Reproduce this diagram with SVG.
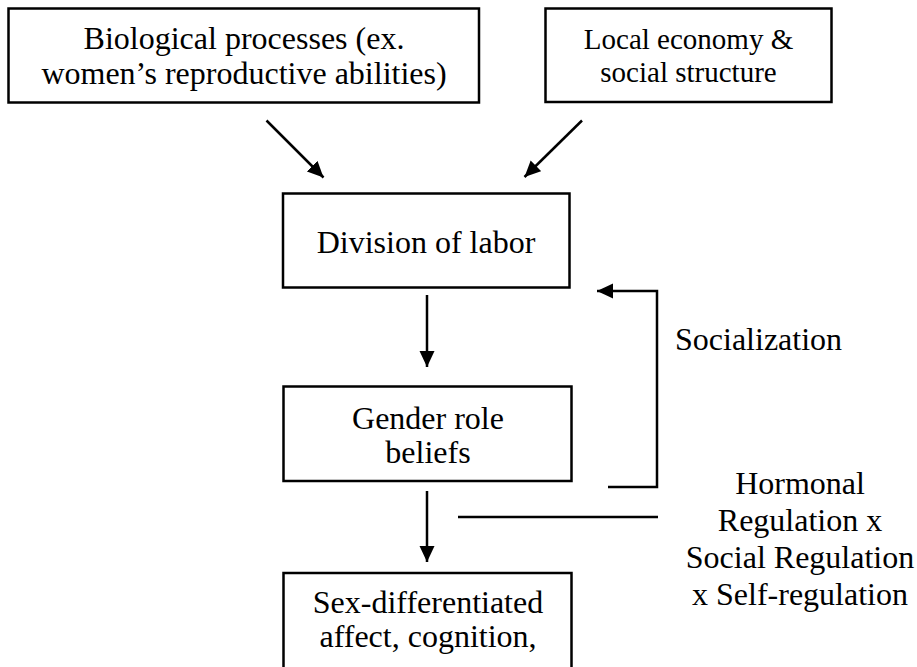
<svg xmlns="http://www.w3.org/2000/svg" width="917" height="667" viewBox="0 0 917 667">
  <style>
    .box { fill: #ffffff; stroke: #000000; stroke-width: 2.5; }
    .t { font-family: "Liberation Serif", "Times New Roman", serif; font-size: 32px; fill: #000000; text-anchor: middle; }
    .ts { font-size: 29px; }
    .ln { fill: none; stroke: #000000; stroke-width: 2.5; }
  </style>
  <defs>
    <marker id="ah" markerUnits="userSpaceOnUse" markerWidth="17" markerHeight="16" refX="16" refY="7.5" orient="auto">
      <path d="M0,0 L16,7.5 L0,15 z" fill="#000000"/>
    </marker>
  </defs>
  <rect width="917" height="667" fill="#ffffff"/>

  <g id="bio">
    <rect class="box" x="8.5" y="8.5" width="470.5" height="94"/>
    <text class="t" x="244" y="49">Biological processes (ex.</text>
    <text class="t" x="244" y="84">women’s reproductive abilities)</text>
  </g>

  <g id="econ">
    <rect class="box" x="545.5" y="8.5" width="286" height="93.5"/>
    <text class="t ts" x="688.5" y="49">Local economy &amp;</text>
    <text class="t ts" x="688.5" y="82">social structure</text>
  </g>

  <g id="division">
    <rect class="box" x="283" y="193.5" width="286.5" height="94"/>
    <text class="t" x="426" y="252.5">Division of labor</text>
  </g>

  <g id="gender">
    <rect class="box" x="283.5" y="386.5" width="288" height="94.5"/>
    <text class="t" x="428" y="429">Gender role</text>
    <text class="t" x="428" y="463">beliefs</text>
  </g>

  <g id="sexdiff">
    <rect class="box" x="283.5" y="573" width="288" height="130"/>
    <text class="t" x="428" y="613">Sex-differentiated</text>
    <text class="t" x="428" y="647">affect, cognition,</text>
  </g>

  <g id="connectors">
    <line class="ln" x1="266.5" y1="120.5" x2="323.5" y2="177.5" marker-end="url(#ah)"/>
    <line class="ln" x1="582" y1="120.5" x2="524.5" y2="177" marker-end="url(#ah)"/>
    <line class="ln" x1="427" y1="295" x2="427" y2="367" marker-end="url(#ah)"/>
    <line class="ln" x1="427" y1="491" x2="427" y2="562" marker-end="url(#ah)"/>
    <polyline class="ln" points="608,487 657,487 657,291 597,291" marker-end="url(#ah)"/>
    <line class="ln" x1="458" y1="517" x2="658" y2="517"/>
  </g>

  <g id="labels">
    <text class="t" x="675" y="350" style="text-anchor:start">Socialization</text>
    <text class="t" x="800" y="494">Hormonal</text>
    <text class="t" x="800" y="531">Regulation x</text>
    <text class="t" x="800" y="568">Social Regulation</text>
    <text class="t" x="800" y="605">x Self-regulation</text>
  </g>
</svg>
